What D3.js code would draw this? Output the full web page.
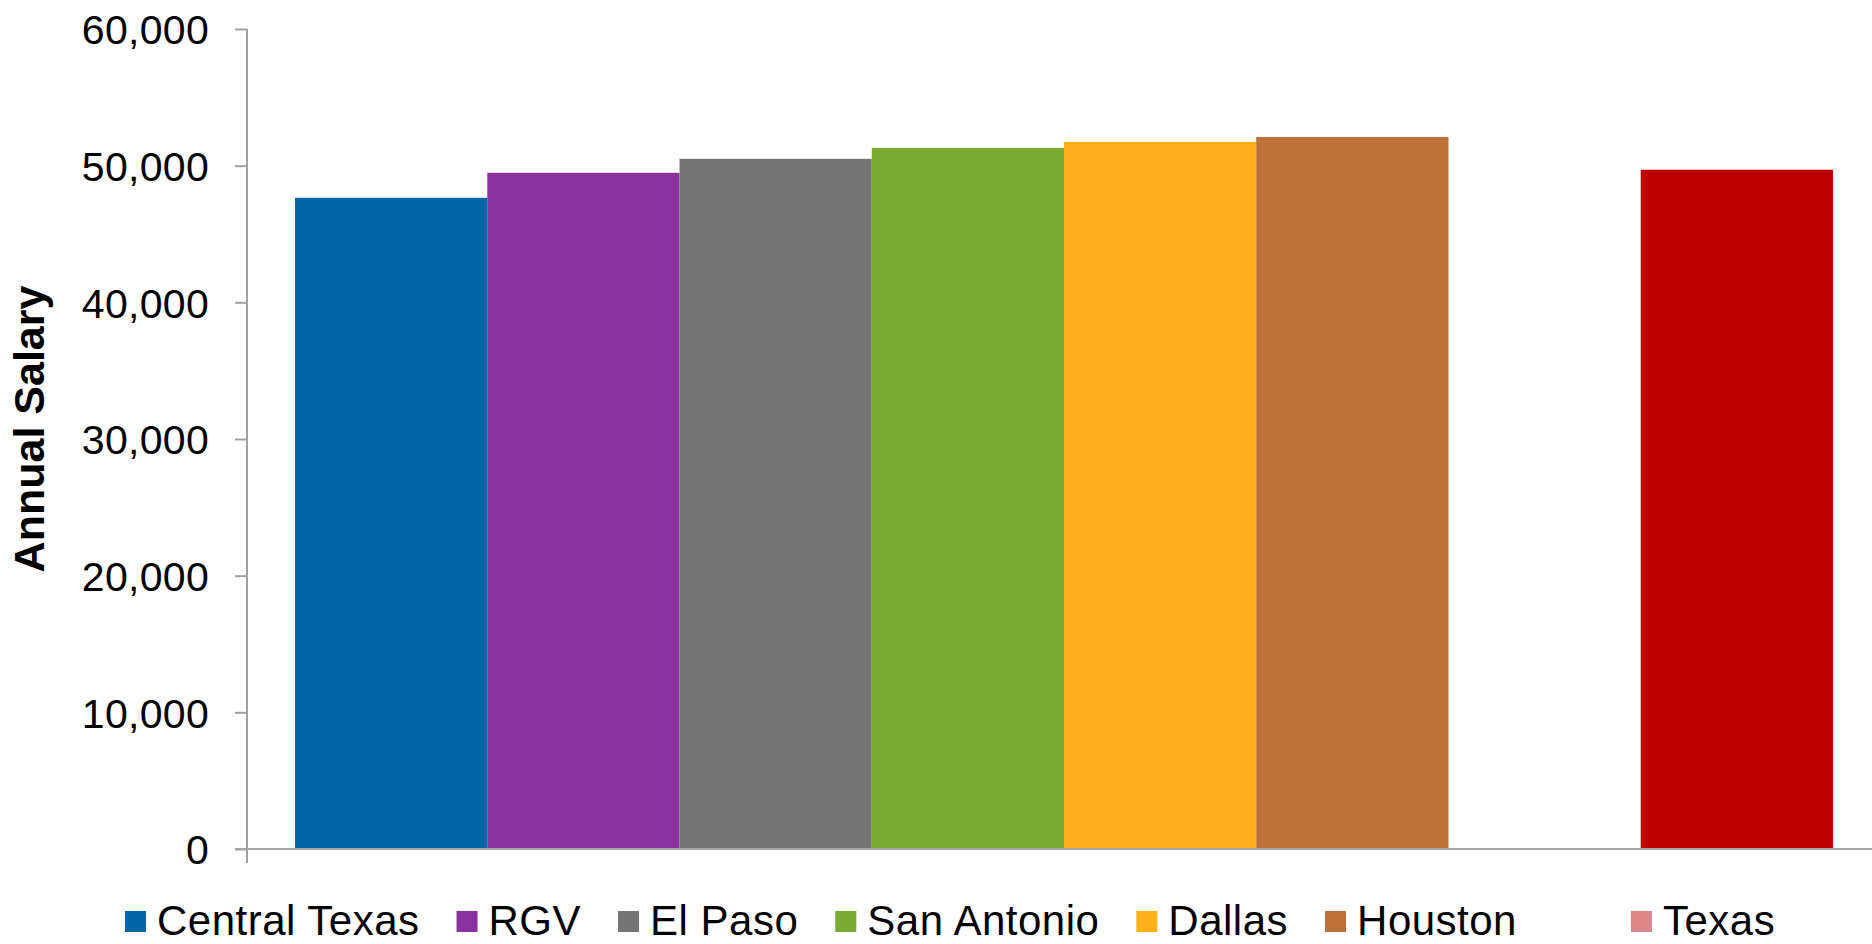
<!DOCTYPE html>
<html>
<head>
<meta charset="utf-8">
<script src="https://cdn.jsdelivr.net/npm/d3@7"></script>
<style>
  html, body { margin: 0; padding: 0; background: #fff; }
  #chart { width: 1872px; height: 944px; }
  text { font-family: "Liberation Sans", Arial, sans-serif; }
</style>
</head>
<body>
<div id="chart"></div>
<script>
// regions (the blank one keeps the gap before Texas)
const regions = ["Central Texas", "RGV", "El Paso", "San Antonio", "Dallas", "Houston", "", "Texas"]
const salaries = [47650, 49480, 50500, 51300, 51740, 52100, null, 49700]
const barColors = ["#0066a6", "#8a31a0", "#757575", "#7bab34", "#fdb01a", "#bc7139", null, "#c00000"]
const legendColors = ["#0066a6", "#8a31a0", "#757575", "#7bab34", "#fdb01a", "#bc7139", null, "#de868a"]
const yTicks = [0, 10000, 20000, 30000, 40000, 50000, 60000]
const yTitle = "Annual Salary"

// setup the dimensions
const margin = { top: 29, right: -9, bottom: 95, left: 247 }
const width = 1872 - margin.left - margin.right
const height = 944 - margin.top - margin.bottom

const svg = d3.select("#chart")
  .append("svg")
    .attr("width", 1872)
    .attr("height", 944)

const chart = svg.append("g")
    .attr("transform", `translate(${margin.left},${margin.top})`)

// scales
const x = d3.scaleBand()
    .domain(regions)
    .range([0, width])
    .paddingInner(0)
    .paddingOuter(0.25)

const y = d3.scaleLinear()
    .domain([0, 60000])
    .range([height, 0])

// bars
chart.selectAll("rect.bar")
  .data(regions.map((r, i) => ({ name: r, value: salaries[i], color: barColors[i] }))
        .filter(d => d.value != null))
  .enter().append("rect")
    .attr("class", "bar")
    .attr("x", d => x(d.name))
    .attr("width", x.bandwidth())
    .attr("y", d => y(d.value))
    .attr("height", d => height - y(d.value))
    .attr("fill", d => d.color)

// y axis
const yAxis = chart.append("g")
    .call(d3.axisLeft(y)
        .tickValues(yTicks)
        .tickSize(12)
        .tickPadding(26)
        .tickFormat(d3.format(",")))
yAxis.select(".domain").remove()
yAxis.selectAll(".tick line").attr("stroke", "#a0a0a0").attr("stroke-width", 2)
yAxis.selectAll(".tick text")
    .attr("font-size", 41)
    .attr("letter-spacing", "0.3px")
    .attr("fill", "#000")
    .attr("dy", "0.36em")

// vertical axis line, running a little below the baseline
chart.append("line")
    .attr("x1", 0).attr("x2", 0)
    .attr("y1", y(60000)).attr("y2", height + 14)
    .attr("stroke", "#a0a0a0")
    .attr("stroke-width", 2)

// horizontal axis line
chart.append("line")
    .attr("x1", -12).attr("x2", width)
    .attr("y1", y(0)).attr("y2", y(0))
    .attr("stroke", "#a6a6a6")
    .attr("stroke-width", 2)

// y axis title
svg.append("text")
    .attr("transform", `translate(44,${margin.top + height / 2 - 10}) rotate(-90)`)
    .attr("text-anchor", "middle")
    .attr("font-size", 43)
    .attr("font-weight", "bold")
    .text(yTitle)

// legend
const legend = svg.append("g")
    .attr("transform", "translate(125,935)")
let lx = 0
regions.forEach(function(r, i) {
    if (r === "") {
        lx += 77
        return
    }
    const item = legend.append("g").attr("transform", `translate(${lx},0)`)
    item.append("rect")
        .attr("x", 0).attr("y", -24)
        .attr("width", 21).attr("height", 21)
        .attr("fill", legendColors[i])
    const t = item.append("text")
        .attr("x", 32)
        .attr("font-size", 42)
        .attr("letter-spacing", "0.5px")
        .attr("fill", "#000")
        .text(r)
    lx += 32 + t.node().getComputedTextLength() + 37
})
</script>
</body>
</html>
